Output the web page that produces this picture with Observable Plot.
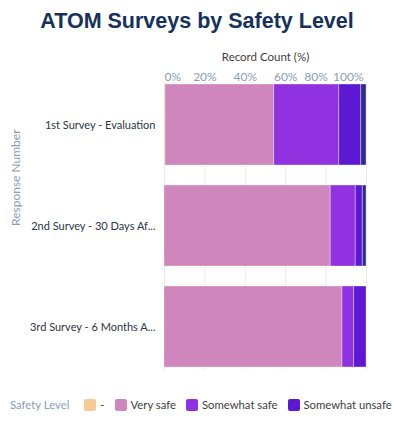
<!DOCTYPE html>
<html><head><meta charset="utf-8">
<script src="https://cdn.jsdelivr.net/npm/d3@7"></script>
<script src="https://cdn.jsdelivr.net/npm/@observablehq/plot@0.6"></script>
<style>
body{margin:0;background:#fff;font-family:Lato,"Open Sans",sans-serif;}
#wrap{width:394px;height:424px;position:relative;}
#title{height:40px;text-align:center;font:bold 21.5px "Liberation Sans",Arial,sans-serif;color:#16325c;line-height:42px;}
#legend{position:absolute;top:398px;left:10px;width:384px;display:flex;align-items:center;font-size:11.3px;color:#3e3e3c;white-space:nowrap;}
#legend .lab{color:#8a9dba;margin-right:15px;}
#legend .it{display:flex;align-items:center;margin-right:10px;}
#legend .sw{width:12px;height:12px;border-radius:2px;margin-right:4px;flex:none;}
</style></head>
<body><div id="wrap"><div id="title">ATOM Surveys by Safety Level</div><div id="chart"></div><div id="legend"></div></div>
<script>
const surveys = ["1st Survey - Evaluation", "2nd Survey - 30 Days Af...", "3rd Survey - 6 Months A..."];
const levels = ["-", "Very safe", "Somewhat safe", "Somewhat unsafe", "Very unsafe"];
const legendLevels = ["-", "Very safe", "Somewhat safe", "Somewhat unsafe"];
const colors = ["#f7c994", "#cf86bd", "#9132e0", "#5c18d2", "#2c2a8c"];
const dashPct = [0.5, 0, 0];
const verySafePct = [53.8, 82.3, 88.1];
const somewhatSafePct = [32.2, 12.4, 5.8];
const somewhatUnsafePct = [10.9, 3.5, 6.1];
const veryUnsafePct = [2.6, 1.8, 0];
const xTicks = [0, 20, 40, 60, 80, 100];

const series = [dashPct, verySafePct, somewhatSafePct, somewhatUnsafePct, veryUnsafePct];
const data = [];
surveys.forEach((s, i) => levels.forEach((l, j) => {
  if (series[j][i] > 0) data.push({survey: s, level: l, pct: series[j][i]});
}));

const grid = "#ecebea";
const tickColor = "#8a9dba";
const chart = Plot.plot({
  width: 394, height: 345,
  marginLeft: 164, marginRight: 28, marginTop: 41, marginBottom: 15,
  style: {fontFamily: "Lato, 'Open Sans', sans-serif", background: "white"},
  x: {domain: [0, 100], axis: null},
  y: {domain: surveys, paddingInner: 0.2, paddingOuter: 0.02, axis: null},
  color: {domain: levels, range: colors},
  marks: [
    Plot.ruleX(xTicks, {x: d => d, stroke: grid, strokeWidth: 1}),
    Plot.barX(data, Plot.stackX({y: "survey", x: "pct", fill: "level", order: levels, stroke: "white", strokeOpacity: 0.35, strokeWidth: 1})),
    Plot.text(xTicks.slice(0, 1), {x: d => d, frameAnchor: "top", dy: -9, text: d => d + "%", textAnchor: "start", fill: tickColor, fontSize: 12}),
    Plot.text(xTicks.slice(1, 4), {x: d => d, frameAnchor: "top", dy: -9, text: d => d + "%", fill: tickColor, fontSize: 12}),
    Plot.text(xTicks.slice(4, 5), {x: d => d, frameAnchor: "top", dy: -9, dx: -10, text: d => d + "%", fill: tickColor, fontSize: 12}),
    Plot.text(xTicks.slice(5), {x: d => d, frameAnchor: "top", dy: -9, dx: -3, text: d => d + "%", textAnchor: "end", fill: tickColor, fontSize: 12}),
    Plot.text(["Record Count (%)"], {frameAnchor: "top", dy: -29, text: d => d, fill: "#3e3e3c", fontSize: 11.5}),
    Plot.text(surveys, {y: d => d, frameAnchor: "left", dx: -9, text: d => d, textAnchor: "end", fill: "#2b3648", fontSize: 11}),
    Plot.text(["Response Number"], {frameAnchor: "left", dx: -148, rotate: -90, text: d => d, fill: tickColor, fontSize: 12})
  ]
});
document.getElementById("chart").appendChild(chart);

const lg = document.getElementById("legend");
lg.innerHTML = '<span class="lab">Safety Level</span>' + legendLevels.map((l) =>
  `<span class="it"><span class="sw" style="background:${colors[levels.indexOf(l)]}"></span>${l}</span>`).join("");
</script></body></html>
